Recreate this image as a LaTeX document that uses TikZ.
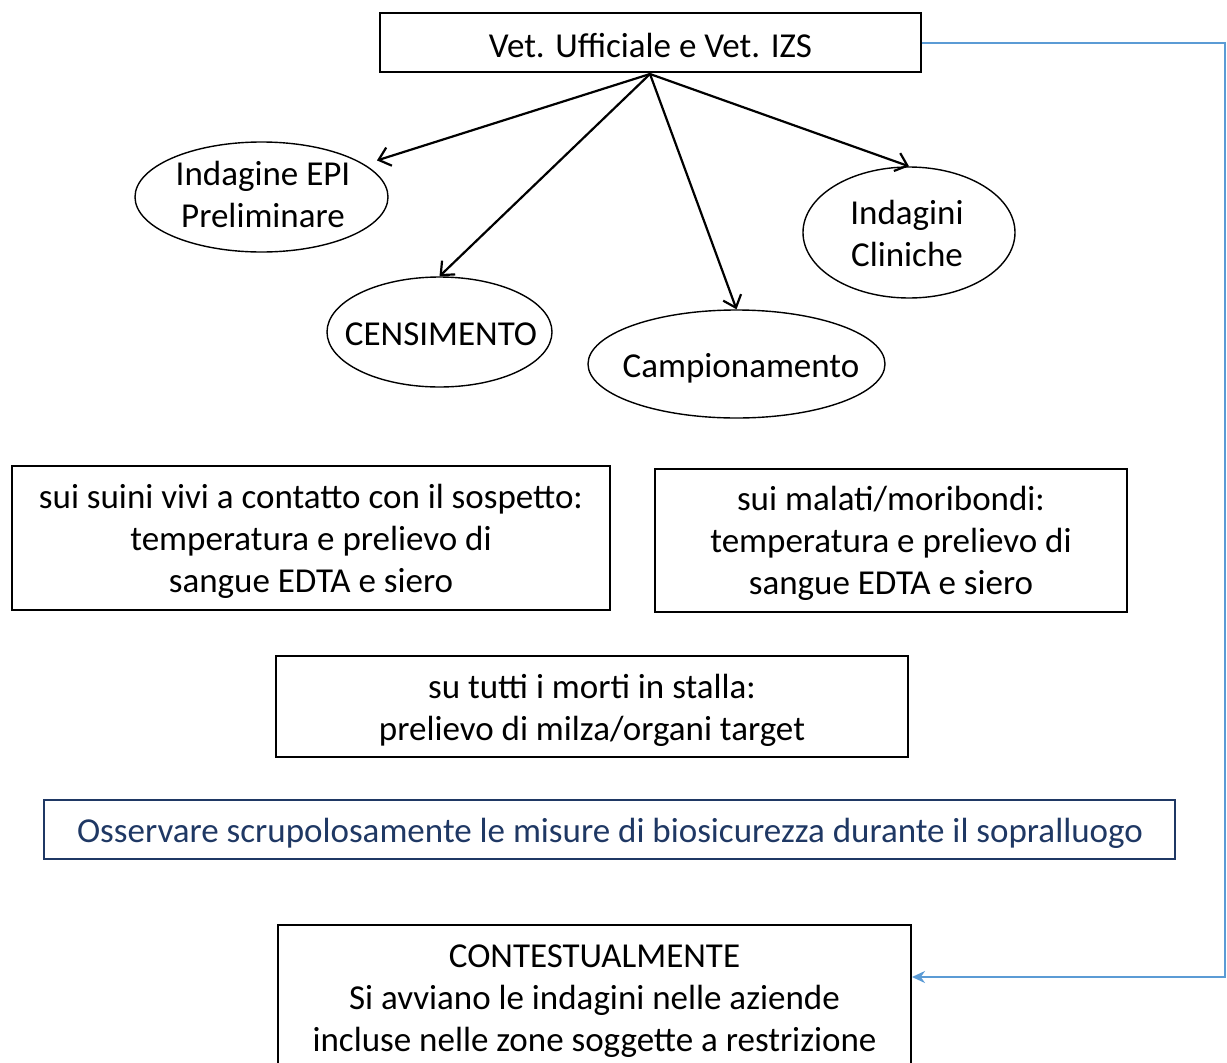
\documentclass[tikz,border=0pt]{standalone}
\usepackage{fontspec}
\setmainfont{Carlito}
\usetikzlibrary{arrows.meta,shapes.geometric}
\definecolor{navy}{HTML}{1F3864}
\definecolor{lblue}{HTML}{5B9BD5}
\begin{document}
\begin{tikzpicture}[x=1pt,y=-1pt,
  every node/.style={font=\fontsize{35}{42}\selectfont, align=center},
  rbox/.style={draw=black, line width=1.8pt, inner sep=0pt},
  ell/.style={draw=black, line width=1.4pt, ellipse, inner sep=0pt},
  lbl/.style={inner sep=0pt},
  arr/.style={line width=2.2pt, -{Straight Barb[length=11pt,width=19pt,line width=2.2pt]}},
  barr/.style={draw=lblue, line width=2pt, -{Stealth[length=13pt,width=12pt]}}]
\clip (0,0) rectangle (1227,1063);
\fill[white] (0,0) rectangle (1227,1063);
% top box
\node[rbox, minimum width=541pt, minimum height=59pt] (top) at (650.5,42.5) {};
\node[lbl] (topt) at (650.5,45) {Vet. Ufficiale e Vet. IZS};
% ellipses
\node[ell, minimum width=253pt, minimum height=110pt] (epi) at (261.5,197) {};
\node[lbl] (epit) at (263,194) {Indagine EPI\\Preliminare};
\node[ell, minimum width=225pt, minimum height=110pt] (cens) at (439.5,332) {};
\node[lbl] (censt) at (441,334) {CENSIMENTO};
\node[ell, minimum width=297pt, minimum height=108pt] (camp) at (736.5,364) {};
\node[lbl] (campt) at (741,368) {Campionamento};
\node[ell, minimum width=212pt, minimum height=131pt] (clin) at (909,232.5) {};
\node[lbl] (clint) at (907,233) {Indagini\\Cliniche};
\coordinate (src) at (650,74);
\draw[arr, shorten >=13pt] (src) -- (epi);
\draw[arr] (src) -- (cens.north);
\draw[arr] (src) -- (camp.north);
\draw[arr] (src) -- (clin.north);
% boxes
\node[rbox, minimum width=598pt, minimum height=144pt] (ba) at (311,538) {};
\node[lbl] (bat) at (311,541) {sui suini vivi a contatto con il sospetto:\\temperatura e prelievo di\\sangue EDTA e siero};
\node[rbox, minimum width=472pt, minimum height=143pt] (bb) at (891,540.5) {};
\node[lbl] (bbt) at (891,543) {sui malati/moribondi:\\temperatura e prelievo di\\sangue EDTA e siero};
\node[rbox, minimum width=632pt, minimum height=101pt] (bc) at (592,706.5) {};
\node[lbl] (bct) at (592,710) {su tutti i morti in stalla:\\prelievo di milza/organi target};
\node[draw=navy, line width=2pt, minimum width=1131pt, minimum height=59pt, inner sep=0pt] (bio) at (609.5,829.5) {};
\node[lbl, text=navy] (biot) at (610,833) {Osservare scrupolosamente le misure di biosicurezza durante il sopralluogo};
\draw[line width=1.8pt] (278,1080) -- (278,925) -- (911,925) -- (911,1080);
\node[lbl] (cont) at (594.5,1001) {CONTESTUALMENTE\\Si avviano le indagini nelle aziende\\incluse nelle zone soggette a restrizione};
\coordinate (cin) at (912,977);
\coordinate (c1) at (1225,42.5);
\coordinate (c2) at (1225,977);
\draw[barr] (top.east) -- (c1) -- (c2) -- (cin);
\end{tikzpicture}
\end{document}
